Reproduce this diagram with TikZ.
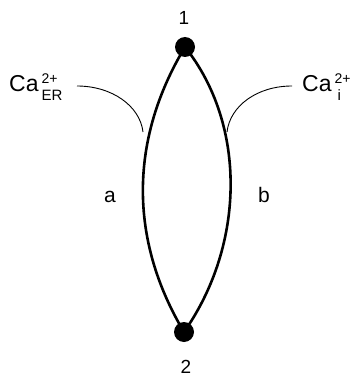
\documentclass[tikz,border=0pt]{standalone}
\usepackage{fontspec}
\setmainfont{Liberation Sans}
\newcommand{\calbl}[1]{{\fontsize{23}{23}\selectfont Ca}\hspace{3pt}\raisebox{8pt}{\rlap{\fontsize{14}{14}\selectfont 2+}}\raisebox{-9pt}{\fontsize{15}{15}\selectfont #1}}
\begin{document}
\begin{tikzpicture}[x=1pt,y=-1pt,
  lbl/.style={inner sep=0pt,anchor=base west},
  dot/.style={circle,fill=black,inner sep=0pt,minimum size=20pt},
  arcline/.style={line width=2.6pt},
  thin/.style={line width=0.9pt},
  plain/.style={inner sep=0pt,anchor=base,font=\fontsize{21}{21}\selectfont}]
\useasboundingbox (0,0) rectangle (353,377);
\node[dot] (n1) at (185,47) {};
\node[dot] (n2) at (184,332) {};
\node[plain,font=\fontsize{19}{19}\selectfont] (t1) at (184,25) {1};
\node[plain,font=\fontsize{19}{19}\selectfont] (t2) at (186,373) {2};
\draw[arcline] (n1.center) .. controls (129,140) and (129,240) .. (n2.center);
\draw[arcline] (n1.center) .. controls (247,125) and (245,245) .. (n2.center);
\node[plain] (la) at (110,202) {a};
\node[plain] (lb) at (264,202) {b};
% left label
\node[lbl] (caer) at (9,92) {\calbl{ER}};
\coordinate (le0) at (77,86);
\coordinate (le1) at (143,132);
\draw[thin] (le0) .. controls (112,86) and (140,106) .. (le1);
% right label
\node[lbl] (cai) at (302,92) {\calbl{\hspace{3pt}i}};
\coordinate (re0) at (292,86);
\coordinate (re1) at (227,132);
\draw[thin] (re0) .. controls (257,86) and (230,106) .. (re1);
\end{tikzpicture}
\end{document}
